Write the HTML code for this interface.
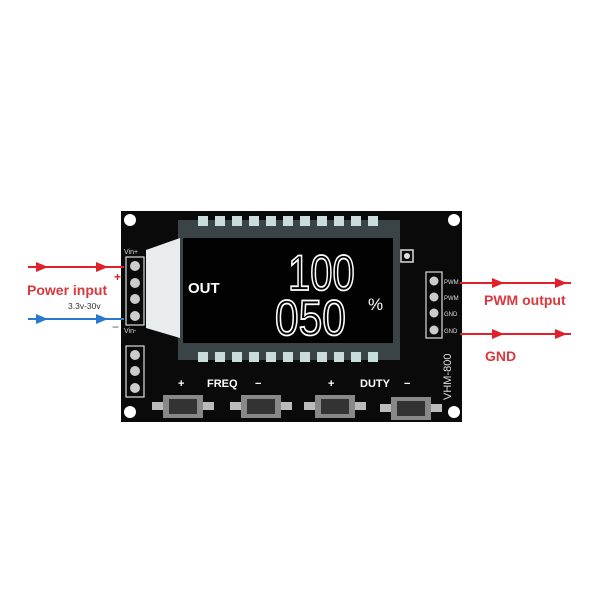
<!DOCTYPE html>
<html><head><style>
html,body{margin:0;padding:0;background:#fff;}
svg{display:block;font-family:"Liberation Sans",sans-serif;}
</style></head><body>
<svg width="600" height="600" viewBox="0 0 600 600">
<rect width="600" height="600" fill="#fff"/>
<!-- board -->
<rect x="121" y="211" width="341" height="211" fill="#0a0a0a"/>
<circle cx="130" cy="220" r="6" fill="#fff"/>
<circle cx="454" cy="220" r="6" fill="#fff"/>
<circle cx="130" cy="412" r="6" fill="#fff"/>
<circle cx="454" cy="412" r="6" fill="#fff"/>
<!-- LCD glass -->
<rect x="178" y="220" width="222" height="140" fill="#3a4446"/>
<polygon points="146,250 180,238 180,338 146,328" fill="#e8ecec"/>
<rect x="183" y="238" width="210" height="105" fill="#020202"/>
<g fill="#c9dcdc">
<rect x="198" y="216" width="10" height="10"/><rect x="215" y="216" width="10" height="10"/><rect x="232" y="216" width="10" height="10"/><rect x="249" y="216" width="10" height="10"/><rect x="266" y="216" width="10" height="10"/><rect x="283" y="216" width="10" height="10"/><rect x="300" y="216" width="10" height="10"/><rect x="317" y="216" width="10" height="10"/><rect x="334" y="216" width="10" height="10"/><rect x="351" y="216" width="10" height="10"/><rect x="368" y="216" width="10" height="10"/>
<rect x="198" y="352" width="10" height="10"/><rect x="215" y="352" width="10" height="10"/><rect x="232" y="352" width="10" height="10"/><rect x="249" y="352" width="10" height="10"/><rect x="266" y="352" width="10" height="10"/><rect x="283" y="352" width="10" height="10"/><rect x="300" y="352" width="10" height="10"/><rect x="317" y="352" width="10" height="10"/><rect x="334" y="352" width="10" height="10"/><rect x="351" y="352" width="10" height="10"/><rect x="368" y="352" width="10" height="10"/>
</g>
<text x="188" y="293" fill="#fff" font-size="15" font-weight="bold">OUT</text>
<text transform="translate(288,290) scale(0.8,1)" fill="none" stroke="#fff" stroke-width="1.8" font-size="50">100</text>
<text transform="translate(275,335) scale(0.85,1)" fill="none" stroke="#fff" stroke-width="1.8" font-size="50">050</text>
<text x="368" y="310" fill="#fff" font-size="17">%</text>
<rect x="401" y="250" width="12" height="12" fill="none" stroke="#ddd" stroke-width="1.5"/>
<circle cx="407" cy="256" r="3" fill="#ddd"/>
<!-- left header -->
<rect x="126" y="257" width="18" height="68" fill="none" stroke="#ddd" stroke-width="1.2"/>
<g fill="#ccc"><circle cx="135" cy="266" r="5"/><circle cx="135" cy="283" r="5"/><circle cx="135" cy="299" r="5"/><circle cx="135" cy="316" r="5"/>
<circle cx="135" cy="355" r="5"/><circle cx="135" cy="371" r="5"/><circle cx="135" cy="388" r="5"/></g>
<rect x="126" y="346" width="18" height="51" fill="none" stroke="#ddd" stroke-width="1.2"/>
<text x="124" y="254" fill="#ddd" font-size="7">Vin+</text>
<text x="124" y="333" fill="#ddd" font-size="7">Vin-</text>
<!-- right header -->
<rect x="426" y="272" width="16" height="66" fill="none" stroke="#ddd" stroke-width="1.2"/>
<g fill="#ccc"><circle cx="434" cy="281" r="4.5"/><circle cx="434" cy="297" r="4.5"/><circle cx="434" cy="313" r="4.5"/><circle cx="434" cy="330" r="4.5"/></g>
<g fill="#ddd" font-size="6"><text x="444" y="284">PWM</text><text x="444" y="300">PWM</text><text x="444" y="316">GND</text><text x="444" y="333">GND</text></g>
<text transform="translate(451,400) rotate(-90)" fill="#ddd" font-size="11">VHM-800</text>
<!-- buttons -->
<g fill="#fff" font-size="11" font-weight="bold">
<text x="178" y="387">+</text><text x="207" y="387">FREQ</text><text x="255" y="387">−</text>
<text x="328" y="387">+</text><text x="360" y="387">DUTY</text><text x="404" y="387">−</text></g>
<g>
<rect x="152" y="402" width="62" height="8" fill="#bbb"/><rect x="163" y="395" width="40" height="23" fill="#888"/><rect x="169" y="399" width="28" height="15" fill="#333"/>
<rect x="230" y="402" width="62" height="8" fill="#bbb"/><rect x="241" y="395" width="40" height="23" fill="#888"/><rect x="247" y="399" width="28" height="15" fill="#333"/>
<rect x="304" y="402" width="62" height="8" fill="#bbb"/><rect x="315" y="395" width="40" height="23" fill="#888"/><rect x="321" y="399" width="28" height="15" fill="#333"/>
<rect x="380" y="404" width="62" height="8" fill="#bbb"/><rect x="391" y="397" width="40" height="23" fill="#888"/><rect x="397" y="401" width="28" height="15" fill="#333"/>
</g>
<!-- left arrows -->
<line x1="28" y1="267" x2="124" y2="267" stroke="#e0202a" stroke-width="2"/>
<polygon points="36,262 48,267 36,272" fill="#e0202a"/><polygon points="96,262 108,267 96,272" fill="#e0202a"/>
<line x1="28" y1="319" x2="124" y2="319" stroke="#2a78d0" stroke-width="2"/>
<polygon points="36,314 48,319 36,324" fill="#2a78d0"/><polygon points="96,314 108,319 96,324" fill="#2a78d0"/>
<text x="114" y="281" fill="#e0202a" font-size="12" font-weight="bold">+</text>
<text x="112" y="331" fill="#555" font-size="12">−</text>
<text x="27" y="295" fill="#d8383e" font-size="14" font-weight="bold">Power input</text>
<text x="68" y="309" fill="#333" font-size="8.5">3.3v-30v</text>
<!-- right arrows -->
<line x1="460" y1="283" x2="571" y2="283" stroke="#e0202a" stroke-width="2"/>
<polygon points="492,278 504,283 492,288" fill="#e0202a"/><polygon points="555,278 567,283 555,288" fill="#e0202a"/>
<line x1="460" y1="334" x2="571" y2="334" stroke="#e0202a" stroke-width="2"/>
<polygon points="492,329 504,334 492,339" fill="#e0202a"/><polygon points="555,329 567,334 555,339" fill="#e0202a"/>
<text x="484" y="305" fill="#d8383e" font-size="14" font-weight="bold">PWM output</text>
<text x="485" y="361" fill="#d8383e" font-size="14" font-weight="bold">GND</text>
</svg>
</body></html>
